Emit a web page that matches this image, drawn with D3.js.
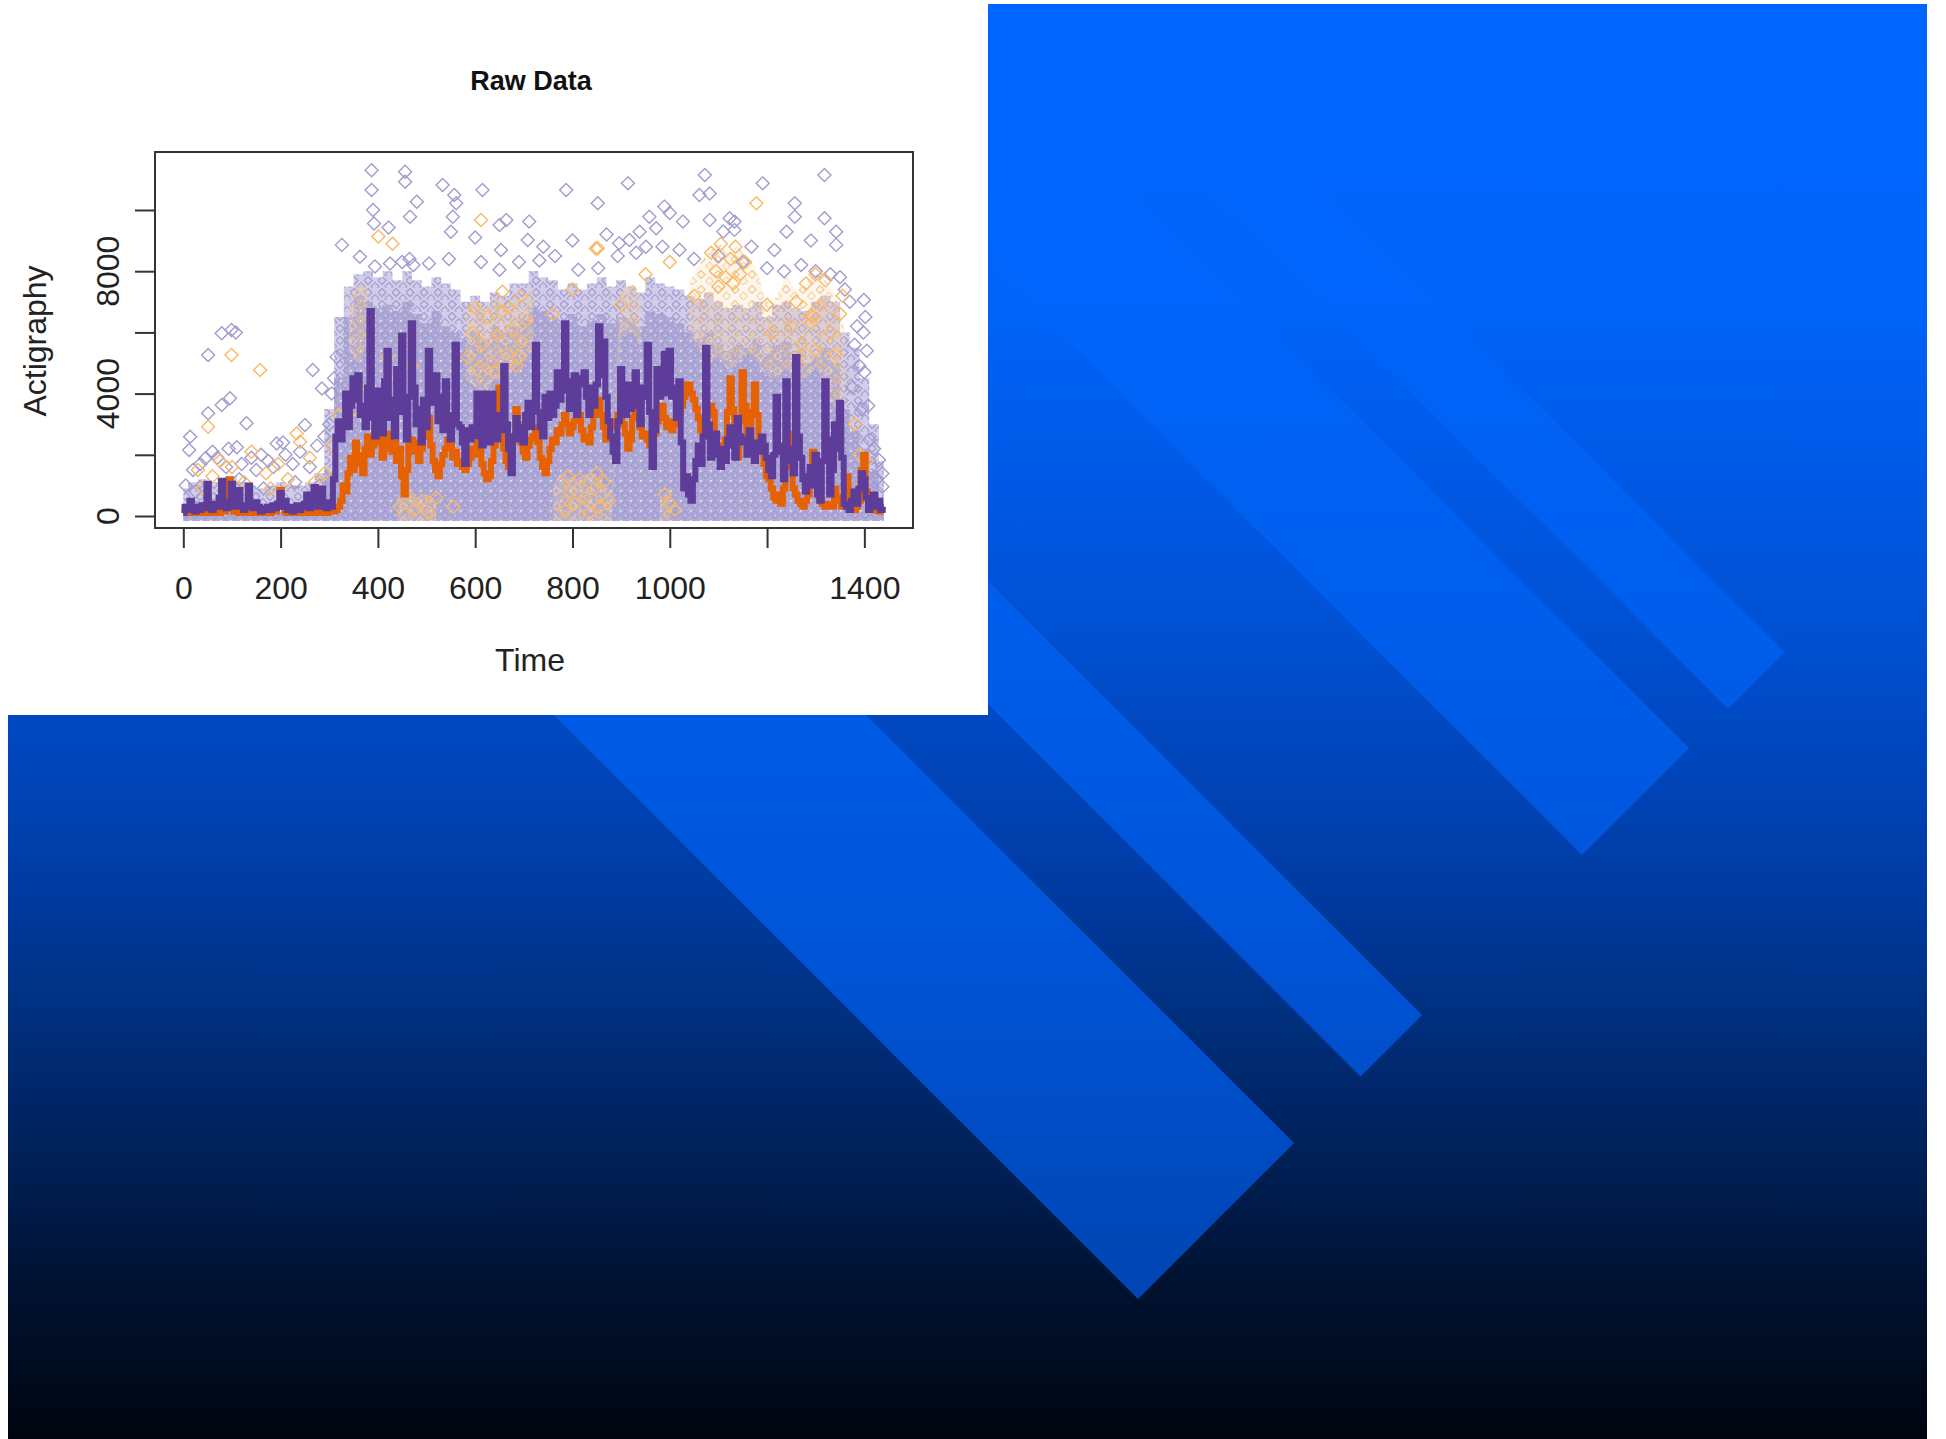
<!DOCTYPE html>
<html>
<head>
<meta charset="utf-8">
<script src="https://cdn.jsdelivr.net/npm/d3@7"></script>
<style>
  body { margin: 0; background: #fff; }
  svg { display: block; }
  text { font-family: "Liberation Sans", Arial, sans-serif; }
</style>
</head>
<body>
<script>
// ---- data ----
// group means, one value every 5 minutes from 0 to 1440
const lineStep = 5;
const purpleMean = [
  100,300,200,500,250,150,300,200,350,250,
  1050,300,200,400,300,600,1150,300,250,450,
  1050,300,400,850,300,200,350,1000,300,250,
  450,300,150,250,200,300,200,350,250,400,
  750,300,500,200,300,150,250,350,200,300,
  400,700,250,350,950,300,400,900,300,250,
  450,300,1200,2600,3100,2500,3000,4000,2900,3600,
  4500,3800,4600,3300,3600,2900,4200,6700,3200,2600,
  4100,3000,2700,4400,5400,3200,3800,2600,4800,3400,
  5900,3600,2500,3900,6300,4200,3000,3500,2400,3800,
  2900,5400,3700,4200,4600,3100,3900,2800,4400,3200,
  2500,3300,5600,3000,2900,2400,1700,2800,2500,2900,
  2600,4000,2800,2300,4000,2700,2400,4000,3100,2500,
  3300,2800,4900,3000,2200,1400,2600,3200,2500,2900,
  2400,3300,3700,2900,3600,5600,3400,2900,2600,3900,
  3200,4000,3300,3600,4700,3800,4300,6300,4100,3500,
  4400,4600,3300,4500,4300,4700,3900,3300,4200,3600,
  4300,6200,4600,5700,3900,3100,2600,2100,1800,3100,
  4800,3900,3300,4300,3500,3900,4700,3600,3000,4200,
  3900,5600,3400,1600,2800,4800,3900,4400,5300,4000,
  5400,3900,4200,3200,4400,2400,900,1300,700,500,
  1200,1800,2300,1700,2600,5500,3000,1900,2200,2700,
  2000,1600,2200,1800,2500,2900,2300,1900,3200,2600,
  2400,2500,2000,2800,2200,1800,2400,2100,2600,2300,
  1900,1500,1300,2000,3900,2300,2100,1200,4400,2200,
  1800,1400,5200,2600,1900,1200,800,1300,1600,1000,
  2000,700,500,1800,4400,2500,700,1500,3000,2200,
  3700,1900,400,300,200,500,800,400,900,1400,
  1200,600,200,300,700,300,500,200,300
];
const orangeMean = [
  100,150,100,200,100,150,100,200,150,100,
  300,150,100,200,150,100,200,150,300,1200,
  400,150,200,100,150,200,100,150,200,100,
  150,100,200,150,100,150,100,200,150,300,
  850,300,150,100,150,200,100,150,100,200,
  150,100,150,200,100,150,100,200,150,100,
  150,200,150,200,300,500,1000,800,1400,1900,
  1500,2400,2000,1700,1400,2200,2600,2000,2300,2900,
  3200,2400,1900,2600,2200,2700,2100,2400,1800,2200,
  1300,700,1500,2400,2500,2100,2400,1800,2200,2600,
  3000,3200,2300,1800,1500,1300,1700,2000,2200,2500,
  2300,1900,2100,1700,1800,1600,1500,1700,1900,2200,
  2000,2400,2300,1700,1400,1200,1300,1800,2300,3000,
  4200,3200,2200,1800,1600,2000,2600,3500,3000,2400,
  2100,1900,2300,2500,2600,2900,2400,1900,1600,1400,
  1800,2200,2500,2400,2800,2700,3000,3300,3000,2700,
  2900,3100,3200,3300,2800,2500,2600,2400,2900,3300,
  3700,3800,3300,2900,2500,2600,2900,3100,3000,3300,
  3200,3000,2700,2200,2500,3200,3800,3400,2900,2600,
  2700,2500,2300,2600,2700,3100,3300,3600,3200,2900,
  3100,2800,3000,3100,3300,3600,3900,4300,4300,4000,
  3800,3500,3200,2800,2600,2900,3300,3600,3400,2600,
  2300,2100,1900,2500,3400,4500,3500,2300,1900,3100,
  4700,3600,2600,2300,3400,4300,3300,2400,2200,1700,
  1300,1200,900,600,500,700,400,900,1600,2700,
  1800,900,700,500,400,300,500,700,1400,2100,
  1500,1000,500,400,300,300,400,300,900,600,
  500,300,400,1300,800,300,200,300,500,1500,
  2000,800,300,200,300,200,150,200,150
];

// packed lavender diamonds: top of the solid part and of the thinner fringe, every 20 minutes
const cloudStep = 20;
const cloudCore = [
  400,500,500,500,500,500,500,400,400,400,400,400,400,500,600,
  1500,4500,6500,7200,7000,6800,6900,6700,7000,6600,6300,6700,6200,6000,5800,
  6000,5800,6200,6000,6200,6400,6800,6700,6500,6300,6600,6200,6400,6600,6300,
  6500,6400,6200,6700,6600,6500,6300,6000,5800,6000,5600,5400,5600,5500,5800,
  5300,5600,5700,5400,5000,5200,5500,5000,3500,2800,2200,1500,600
];
const cloudFringe = [
  900,1100,1200,1100,1200,1300,1100,1000,900,1000,1100,1000,1000,1100,1400,
  3500,6500,7500,7900,8000,7800,8000,7700,8000,7700,7500,7800,7600,7400,7000,
  7200,7000,7300,7200,7600,7600,8000,7800,7700,7400,7600,7400,7600,7800,7500,
  7700,7500,7300,7800,7600,7500,7400,7200,7100,7300,7000,6800,6900,6800,7000,
  6500,6900,7000,6800,6700,7000,7200,7000,6000,5500,4500,3000,1800
];
// patches where orange diamonds are mixed in (same 20-minute grid, null = no patch)
const orangePatchLow = [
  null,null,null,null,null,null,null,null,null,null,null,null,null,null,null,null,null,
  5500,5000,6000,null,null,0,0,0,0,0,null,null,4500,4200,4000,4500,4300,4800,5000,5500,
  null,0,0,0,0,0,0,0,5800,6000,5500,null,0,0,null,6000,5500,5000,5200,4800,5000,5300,
  5000,4600,4500,4800,4600,4500,4800,4200,3500,3000,null,null,null,null
];
const orangePatchHigh = [
  null,null,null,null,null,null,null,null,null,null,null,null,null,null,null,null,null,
  7000,7500,7500,null,null,700,800,600,700,500,null,null,6800,7000,6800,7200,6900,7000,7200,7400,
  null,1000,1400,1200,1300,1400,1100,800,7400,7600,7200,null,600,900,null,7600,8200,8600,8900,8600,8800,8400,
  8000,7000,7200,7800,7400,7600,7900,7700,7200,6000,null,null,null,null
];

// single diamonds standing out of the cloud: [minute, count]
const lavenderPoints = [
  [14,2590],[12,2160],[45,1880],[51,3360],[79,3630],[96,3850],[51,5260],[79,5970],[99,6080],[108,6000],
  [93,2200],[110,2250],[130,3030],[160,2000],[192,2370],[205,2400],[250,2970],[266,4770],[285,4170],[20,1500],
  [35,1700],[60,2100],[70,1900],[88,1600],[120,1700],[140,1900],[150,1500],[175,1800],[185,1600],[210,2000],
  [225,1700],[240,2100],[260,1600],[275,2300],[290,2600],[300,3000],[305,4000],[310,4500],[315,5200],[326,8860],
  [5,1000],[25,800],[115,1200],[165,900],[230,1100],[280,1000],
  [387,11300],[387,10650],[390,10000],[392,9560],[456,11250],[456,10920],[480,10270],[466,9780],[422,9430],[363,8470],
  [394,8150],[425,8250],[450,8300],[473,8200],[533,10820],[557,10490],[561,10220],[554,9780],[550,9290],[615,10650],
  [650,9510],[664,9670],[711,9620],[708,9020],[653,8690],[787,10650],[852,10220],[914,10870],[958,9780],[972,9400],
  [938,9290],[917,9020],[896,8910],[465,8400],[505,8250],[546,8400],[612,8300],[650,8050],[690,8300],[732,8350],
  [764,8500],[812,8050],[853,8100],[893,8500],[931,8600],[951,8800],[985,8800],[1072,11140],[1191,10870],[1318,11140],
  [1061,10490],[1082,10540],[989,10110],[1027,9620],[1082,9670],[1133,9620],[1133,9350],[1257,10220],[1257,9780],[1318,9730],
  [1342,9290],[1342,8860],[1168,8800],[1215,8690],[1240,9290],[1123,9730],[1020,8700],[1050,8400],[1100,8500],[1150,8300],
  [1200,8100],[1235,8000],[1270,8200],[1300,8000],[1330,7900],[1350,7800],[1360,7400],[1370,7000],[1399,7060],[1402,6500],
  [1398,6000],[1405,5400],[1400,4700],[1408,3600],[1410,2500],[1415,1600],[1430,1830],[1437,1390],[1437,960],[1385,6200],
  [1380,5600],[1390,4900],[1375,4200],[1395,3500],[1420,2200],[1425,1200],[600,9100],[740,8800],[800,9000],[870,9200],
  [1000,9900],[1110,9300],[1290,9000]
];
const orangePoints = [
  [99,5260],[158,4770],[51,2920],[240,2430],[233,2700],[30,1500],[60,1300],[75,1800],[100,1600],[125,1100],
  [140,2100],[170,1400],[195,1700],[215,1200],[260,1900],[270,1100],[290,1400],[305,2300],[320,3300],[40,900],
  [180,900],[401,9130],[430,8900],[612,9670],[852,8750],[1178,10220],[656,7330],[694,7170],[848,8740],[1291,6570],
  [1293,6500],[585,5200],[595,6000],[605,4800],[615,5600],[625,6500],[635,5000],[645,5900],[655,6700],[665,5300],
  [675,6100],[685,4900],[695,5700],[705,6400],[600,6800],[640,4700],[670,6800],[690,5200],[420,5200],[440,4500],
  [455,5600],[470,4900],[350,3500],[360,4200],[785,200],[795,800],[805,400],[815,1200],[825,600],[835,100],
  [845,900],[855,300],[865,1100],[875,500],[790,1300],[850,1400],[445,300],[460,700],[475,200],[490,500],
  [505,100],[520,600],[555,300],[1085,8600],[1095,8000],[1105,8900],[1115,7800],[1125,8400],[1135,8800],[1145,7900],
  [1155,8300],[1100,7500],[1130,7600],[1250,6200],[1260,7000],[1270,5600],[1280,7600],[1290,6300],[1300,5400],[1310,6900],
  [1320,7700],[1330,6000],[1340,5300],[1350,6600],[1355,7200],[1265,5200],[1300,7900],[1000,400],[1010,200],[990,700],
  [950,7900],[1000,8300],[900,6900],[1200,6900],[1210,6000],[1380,3000],[1390,2000],[1395,1000],[1405,1800],[760,6600],
  [800,7400],[1050,7200]
];

const xTicks = [0, 200, 400, 600, 800, 1000, 1200, 1400];
const xTickLabels = ["0", "200", "400", "600", "800", "1000", "", "1400"];
const yTicks = [0, 2000, 4000, 6000, 8000, 10000];
const yTickLabels = ["0", "", "4000", "", "8000", ""];

const titleText = "Raw Data";
const xTitle = "Time";
const yTitle = "Actigraphy";

// ---- page ----
const W = 1946, H = 1439;
const svg = d3.select("body").append("svg")
    .attr("width", W)
    .attr("height", H);
const defs = svg.append("defs");

// slide background: blue fading to black
const slide = { x: 8, y: 4, w: 1919, h: 1435 };
const bgGrad = defs.append("linearGradient")
    .attr("id", "bgGrad")
    .attr("gradientUnits", "userSpaceOnUse")
    .attr("x1", 0).attr("y1", slide.y).attr("x2", 0).attr("y2", slide.y + slide.h);
[[0, "#0066ff"], [0.2, "#0064fa"], [0.32, "#005ae8"], [0.45, "#004fd0"], [0.54, "#0044b8"],
 [0.64, "#00389a"], [0.7, "#003080"], [0.77, "#002566"], [0.83, "#001c4c"], [0.89, "#001232"],
 [0.96, "#000a1c"], [1, "#000510"]].forEach(s => {
    bgGrad.append("stop").attr("offset", s[0]).attr("stop-color", s[1]);
});

const bandGrad = defs.append("linearGradient")
    .attr("id", "bandGrad")
    .attr("gradientUnits", "userSpaceOnUse")
    .attr("x1", 0).attr("y1", slide.y).attr("x2", 0).attr("y2", slide.y + slide.h);
[[0, "#0066ff"], [0.2, "#0065fd"], [0.5, "#005be6"], [0.7, "#0052d2"], [0.85, "#0048ba"], [1, "#0040a8"]]
    .forEach(s => bandGrad.append("stop").attr("offset", s[0]).attr("stop-color", s[1]));

defs.append("clipPath").attr("id", "slideClip")
    .append("rect")
    .attr("x", slide.x).attr("y", slide.y).attr("width", slide.w).attr("height", slide.h);

svg.append("rect")
    .attr("x", slide.x).attr("y", slide.y)
    .attr("width", slide.w).attr("height", slide.h)
    .attr("fill", "url(#bgGrad)");

// diagonal stripes, all cut by the same line x + y = capLine
const capLine = 2437;
const stripes = [[-1133, -1019], [-941, -727], [-407, -284], [-151, 161]];
const stripeG = svg.append("g").attr("clip-path", "url(#slideClip)");
stripes.forEach(([c1, c2]) => {
    const pts = [
        [(capLine - c1) / 2, (capLine + c1) / 2],
        [(capLine - c2) / 2, (capLine + c2) / 2],
        [-1500, -1500 + c2],
        [-1500, -1500 + c1]
    ];
    stripeG.append("path")
        .attr("d", "M" + pts.join("L") + "Z")
        .attr("fill", "url(#bandGrad)");
});

// white panel holding the R plot
svg.append("rect")
    .attr("x", 0).attr("y", 0)
    .attr("width", 988).attr("height", 715)
    .attr("fill", "#fff");

// ---- chart ----
const plot = { left: 155, right: 913, top: 152, bottom: 528 };

const x = d3.scaleLinear()
    .domain([-58.2, 1500])
    .range([plot.left, plot.right]);
const y = d3.scaleLinear()
    .domain([-392, 11895])
    .range([plot.bottom, plot.top]);

// textures for the packed diamonds
const dense = defs.append("pattern")
    .attr("id", "cloudDense")
    .attr("patternUnits", "userSpaceOnUse")
    .attr("width", 10).attr("height", 10);
dense.append("rect").attr("width", 10).attr("height", 10).attr("fill", "#b1abd8");
dense.append("path").attr("d", "M5,1L9,5L5,9L1,5Z")
    .attr("fill", "none").attr("stroke", "#a09ace").attr("stroke-width", 1.1);
dense.append("rect").attr("width", 1.6).attr("height", 1.6).attr("fill", "#fff").attr("opacity", 0.8);
dense.append("rect").attr("x", 5).attr("y", 5).attr("width", 1.2).attr("height", 1.2)
    .attr("fill", "#fff").attr("opacity", 0.6);

const sparse = defs.append("pattern")
    .attr("id", "cloudSparse")
    .attr("patternUnits", "userSpaceOnUse")
    .attr("width", 14).attr("height", 12);
sparse.append("rect").attr("width", 14).attr("height", 12).attr("fill", "#d2cde9");
sparse.append("path").attr("d", "M4,0.5L8,4.5L4,8.5L0,4.5Z")
    .attr("fill", "none").attr("stroke", "#a59fd2").attr("stroke-width", 1.3);
sparse.append("path").attr("d", "M11,6.5L15,10.5L11,14.5L7,10.5Z")
    .attr("fill", "none").attr("stroke", "#aca6d5").attr("stroke-width", 1.3);
sparse.append("path").attr("d", "M-3,6.5L1,10.5L-3,14.5L-7,10.5Z")
    .attr("fill", "none").attr("stroke", "#aca6d5").attr("stroke-width", 1.3);

// orange diamonds scattered sparsely through the lavender
const orangeTex = defs.append("pattern")
    .attr("id", "orangeTex")
    .attr("patternUnits", "userSpaceOnUse")
    .attr("width", 17).attr("height", 15);
orangeTex.append("rect").attr("width", 17).attr("height", 15)
    .attr("fill", "#f4d2ad").attr("opacity", 0.25);
orangeTex.append("path").attr("d", "M4,0.5L8,4.5L4,8.5L0,4.5Z")
    .attr("fill", "none").attr("stroke", "#f5bd78").attr("stroke-width", 1.2);
orangeTex.append("path").attr("d", "M12.5,7L16.5,11L12.5,15L8.5,11Z")
    .attr("fill", "none").attr("stroke", "#f8cd98").attr("stroke-width", 1.1);

const cloudT = cloudCore.map((_, i) => i * cloudStep);

svg.append("path")
    .datum(cloudFringe)
    .attr("fill", "url(#cloudSparse)")
    .attr("d", d3.area()
        .x((d, i) => x(cloudT[i]))
        .y0(y(0) + 5)
        .y1(d => y(d))
        .curve(d3.curveStep));

svg.append("path")
    .datum(cloudCore)
    .attr("fill", "url(#cloudDense)")
    .attr("d", d3.area()
        .x((d, i) => x(cloudT[i]))
        .y0(y(0) + 5)
        .y1(d => y(d))
        .curve(d3.curveStep));

svg.append("path")
    .datum(orangePatchHigh)
    .attr("fill", "url(#orangeTex)")
    .attr("opacity", 0.85)
    .attr("d", d3.area()
        .defined(d => d !== null)
        .x((d, i) => x(cloudT[i]))
        .y0((d, i) => orangePatchLow[i] === 0 ? y(0) + 5 : y(orangePatchLow[i]))
        .y1(d => y(d))
        .curve(d3.curveMonotoneX));

const diamond = "M0,-6.5L6.5,0L0,6.5L-6.5,0Z";

svg.append("g")
    .selectAll("path")
    .data(lavenderPoints)
    .join("path")
    .attr("d", diamond)
    .attr("transform", d => `translate(${x(d[0])},${y(d[1])})`)
    .attr("fill", "none")
    .attr("stroke", "#a19bcf")
    .attr("stroke-width", 1.4);

svg.append("g")
    .selectAll("path")
    .data(orangePoints)
    .join("path")
    .attr("d", diamond)
    .attr("transform", d => `translate(${x(d[0])},${y(d[1])})`)
    .attr("fill", "none")
    .attr("stroke", "#f8b864")
    .attr("stroke-width", 1.4);

const meanLine = d3.line()
    .x((d, i) => x(i * lineStep))
    .y(d => y(d))
    .curve(d3.curveStep);

svg.append("path")
    .datum(orangeMean)
    .attr("fill", "none")
    .attr("stroke", "#e66101")
    .attr("stroke-width", 6)
    .attr("d", meanLine);

svg.append("path")
    .datum(purpleMean)
    .attr("fill", "none")
    .attr("stroke", "#5e3c99")
    .attr("stroke-width", 6)
    .attr("d", meanLine);

// frame
svg.append("rect")
    .attr("x", plot.left).attr("y", plot.top)
    .attr("width", plot.right - plot.left)
    .attr("height", plot.bottom - plot.top)
    .attr("fill", "none")
    .attr("stroke", "#333")
    .attr("stroke-width", 2);

// axes
const xAxis = svg.append("g")
    .attr("transform", `translate(0,${plot.bottom})`)
    .call(d3.axisBottom(x)
        .tickValues(xTicks)
        .tickFormat((d, i) => xTickLabels[i])
        .tickSize(20)
        .tickSizeOuter(0)
        .tickPadding(28));
xAxis.select(".domain").remove();
xAxis.selectAll("line").attr("stroke", "#333").attr("stroke-width", 2);
xAxis.selectAll("text")
    .attr("font-size", 32)
    .attr("font-family", "'Liberation Sans', Arial, sans-serif")
    .attr("fill", "#222");

const yAxis = svg.append("g")
    .attr("transform", `translate(${plot.left},0)`)
    .call(d3.axisLeft(y)
        .tickValues(yTicks)
        .tickFormat("")
        .tickSize(20)
        .tickSizeOuter(0));
yAxis.select(".domain").remove();
yAxis.selectAll("line").attr("stroke", "#333").attr("stroke-width", 2);

svg.append("g")
    .selectAll("text")
    .data(yTicks)
    .join("text")
    .attr("transform", d => `translate(108,${y(d)}) rotate(-90)`)
    .attr("text-anchor", "middle")
    .attr("dominant-baseline", "central")
    .attr("font-size", 32)
    .attr("fill", "#222")
    .text((d, i) => yTickLabels[i]);

// titles
svg.append("text")
    .attr("x", 531).attr("y", 81)
    .attr("text-anchor", "middle")
    .attr("dominant-baseline", "central")
    .attr("font-size", 27)
    .attr("font-weight", "bold")
    .attr("fill", "#111")
    .text(titleText);

svg.append("text")
    .attr("x", 530).attr("y", 660)
    .attr("text-anchor", "middle")
    .attr("dominant-baseline", "central")
    .attr("font-size", 32)
    .attr("fill", "#222")
    .text(xTitle);

svg.append("text")
    .attr("transform", "translate(35,341) rotate(-90)")
    .attr("text-anchor", "middle")
    .attr("dominant-baseline", "central")
    .attr("font-size", 32)
    .attr("fill", "#222")
    .text(yTitle);
</script>
</body>
</html>
